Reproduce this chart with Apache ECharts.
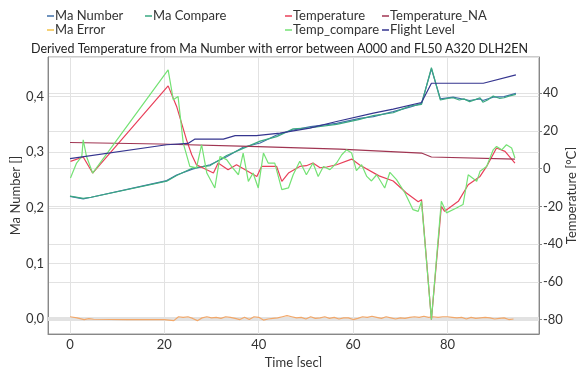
<!DOCTYPE html>
<html><head><meta charset="utf-8">
<script src="https://cdn.jsdelivr.net/npm/echarts@6/dist/echarts.min.js"></script>
<style>html,body{margin:0;padding:0;background:#fff}#c{width:576px;height:367px}</style>
</head><body><div id="c"></div>
<script>
const titleText = 'Derived Temperature from Ma Number with error between A000 and FL50 A320 DLH2EN';
const xName = 'Time [sec]';
const yLeftName = 'Ma Number []';
const yRightName = 'Temperature [°C]';
const seriesNames = ['Ma Number','Ma Compare','Ma Error','Temperature','Temperature_NA','Temp_compare','Flight Level'];

const maNumber = [[0,0.2205],[2.8,0.216],[4.5,0.219],[20.5,0.249],[22.6,0.259],[26.1,0.270],[29.7,0.2775],[33.2,0.292],[36.7,0.309],[40.3,0.3166],[43.8,0.331],[47.3,0.340],[51,0.346],[56.5,0.352],[61.4,0.361],[64.3,0.364],[68.5,0.373],[72,0.381],[74.5,0.388],[76.6,0.450],[78.5,0.396],[81.2,0.399],[84.7,0.393],[86.9,0.396],[87.5,0.393],[89.7,0.399],[92,0.400],[94.5,0.406]];
const maCompare = [[0,0.221],[2.8,0.217],[4.5,0.219],[20.5,0.248],[22.6,0.258],[26.1,0.272],[29.7,0.276],[33.2,0.294],[36.7,0.307],[40.3,0.320],[43.8,0.328],[47.3,0.342],[51,0.344],[56.5,0.350],[61.4,0.359],[64.3,0.366],[68.5,0.371],[72,0.383],[74.5,0.386],[76.6,0.452],[78.5,0.394],[80,0.397],[81.2,0.398],[82.5,0.394],[83.5,0.396],[84.7,0.391],[86,0.395],[86.9,0.398],[87.5,0.390],[88.5,0.394],[89.7,0.401],[91,0.397],[92,0.398],[93,0.401],[94.5,0.404]];
const maError = [[0,0.004],[1.5,0.002],[3,-0.001],[4,0.0005],[5,-0.0005],[12,-0.001],[20,-0.001],[21,-0.002],[22,-0.003],[23,0.004],[24,0.003],[25,0.004],[26,0.001],[27,-0.003],[28,0.002],[29,0.004],[30,0.002],[31,0.003],[32,0.001],[33,0.004],[34,0.003],[35,0.001],[36,-0.001],[37,0.003],[38,-0.001],[39,0.004],[40,0.003],[41,-0.002],[42,0.0],[43,0.001],[44,0.002],[45,0.004],[46,0.006],[47,0.004],[48,0.002],[49,0.003],[50,0.0],[51,0.004],[52,0.001],[53,0.002],[54,0.004],[55,0.001],[56,0.003],[57,0.0],[58,0.002],[59,0.002],[60,-0.001],[61,0.001],[62,0.004],[63,0.003],[64,0.005],[65,0.003],[66,0.001],[67,0.004],[68,0.002],[69,0.0],[70,0.002],[71,0.001],[72,0.003],[73,0.004],[74,0.003],[75,0.005],[76,0.003],[77,0.004],[78,0.003],[79,0.004],[80,0.004],[81,0.003],[82,0.002],[83,0.003],[84,0.0],[85,0.003],[86,0.001],[87,0.002],[88,0.003],[89,0.002],[90,0.0],[91,0.001],[92,0.002],[93,-0.001],[94,0.0]];
const temperature = [[0.1,3.9],[2.8,6.2],[4.8,-2.3],[20.8,43.9],[22.6,33],[24.7,15.3],[25.8,7.4],[26.8,2.1],[30.4,-2.3],[31.4,3],[33.5,-0.5],[35.3,2.1],[36.4,0.5],[39.6,-4.1],[40.6,1.2],[43.8,1.2],[44.9,-6.7],[46.3,-2.3],[48.7,1.2],[50.1,1.6],[51.5,3],[53,0.5],[54.4,0.9],[56.5,2.1],[59.7,5.1],[61.4,2],[65.5,-3.8],[68.5,-6.5],[71.3,-12.9],[73.8,-17.5],[74.5,-16.4],[76.6,-80],[78.7,-20],[79.4,-22.6],[82.3,-17.3],[84.4,-8.5],[86.9,-4.1],[88.3,1.2],[90.4,11],[92.2,9.2],[94.3,3]];
const temperatureNA = [[0,13.9],[19,13.1],[38,11.8],[57.2,10.4],[74.5,8.3],[76.6,6.2],[94.3,5.1]];
const tempCompare = [[0.1,-4.9],[1.4,3],[2.5,6.5],[2.8,15.3],[3.5,6.5],[4.8,-2.3],[20.8,52.4],[21.9,36.5],[22.9,38.3],[24,13.6],[25.4,1.2],[26.8,0.4],[27.9,12.7],[29,-2.3],[30.7,-10.2],[31.8,6.5],[33.2,4.8],[34.3,1],[35.7,-3.2],[36.7,8.3],[37.8,-6.7],[38.8,-2.3],[39.9,-10.2],[41,8.3],[42,3],[43.4,3],[44.9,-11.1],[46.3,-10.2],[47.3,-3.2],[48.7,3.9],[50.1,-3.2],[51.5,3],[52.6,-4.1],[53.7,1.2],[55.1,-0.5],[56.5,3],[57.6,7.4],[58.6,10],[59.7,8.3],[60.7,-1],[61.8,2.1],[62.9,-4.1],[63.9,-6.5],[65,-3.2],[66.7,-10.2],[67.8,-1.9],[69.2,-5.8],[71,-12.9],[72.7,-21.7],[73.8,-22.6],[74.5,-17.3],[76.6,-80],[78.7,-17.3],[79.8,-23.4],[81.9,-20.8],[83.3,-19],[84.4,-3.2],[86.2,-6.7],[86.9,-1.4],[88.3,1.2],[89.7,10],[90.4,11.8],[91.5,10],[92.5,12.7],[93.6,11],[94.3,5.7]];
const flightLevel = [[0,5.3],[20.5,12.7],[25,13.4],[26.5,15.7],[32.5,15.7],[35,17.5],[39.5,17.5],[44.5,18.9],[50.8,21.5],[56.5,25],[64.3,29.5],[68.5,31.6],[74.5,35.1],[76.6,45.3],[87.6,45.3],[94.5,49.7]];

const colors = ['#4170a8','#3aa882','#f2a86a','#e8405a','#a03552','#74e274','#35358f'];
const legendColors = ['#4170a8','#3aa882','#f2c24a','#e8405a','#a03552','#74e274','#35358f'];
const dataList = [maNumber, maCompare, maError, temperature, temperatureNA, tempCompare, flightLevel];
const axisIdx = [0,0,0,1,1,1,1];
const legendPos = [[47,9],[145,9],[47,23],[285,9],[382,9],[285,23],[382,23]];

const FONT = 'Lato';
const chart = echarts.init(document.getElementById('c'));
const series = seriesNames.map((n,i)=>{
  const s = {name:n, type:'line', yAxisIndex:axisIdx[i], data:dataList[i], showSymbol:false, symbol:'none',
    lineStyle:{width:1.2, color:colors[i]}, itemStyle:{color:colors[i]}, z:2+i, animation:false};
  if (i===2) {
    s.markLine = {silent:true, symbol:'none', label:{show:false}, lineStyle:{color:'#e2e2e2', width:4, type:'solid'}, data:[{yAxis:0}], z:1};
    s.z = 3;
  }
  return s;
});
const legends = seriesNames.map((n,i)=>({
  data:[{name:n, itemStyle:{color:legendColors[i]}}], left:legendPos[i][0], top:legendPos[i][1], padding:0,
  icon:'rect', itemWidth:7, itemHeight:1.5, selectedMode:false,
  textStyle:{fontFamily:FONT, fontSize:13, color:'#333', lineHeight:14, padding:[0,0,0,-4]}
}));
chart.setOption({
  animation:false,
  backgroundColor:'#fff',
  title:{text:titleText, left:31, top:42, padding:0, textStyle:{fontFamily:FONT, fontSize:12.5, fontWeight:'normal', color:'#222'}},
  legend:legends,
  grid:{left:48, right:37, top:57, bottom:33, show:true, borderColor:'#999', borderWidth:1, outerBoundsMode:'none', containLabel:false},
  xAxis:{type:'value', min:-4.66, max:99.4, splitNumber:5, name:xName, nameLocation:'middle', nameGap:22, nameMoveOverlap:false,
    nameTextStyle:{fontFamily:FONT, fontSize:13, color:'#333'},
    axisLine:{show:true, onZero:false, lineStyle:{color:'#888'}}, axisTick:{show:false},
    axisLabel:{fontFamily:FONT, fontSize:13, color:'#333', margin:4, showMinLabel:false, showMaxLabel:false},
    splitLine:{show:true, lineStyle:{color:'#e2e2e2'}}},
  yAxis:[
    {type:'value', position:'left', min:-0.027, max:0.4713, splitNumber:5, name:yLeftName, nameLocation:'middle', nameGap:26, nameRotate:90, nameMoveOverlap:false,
      nameTextStyle:{fontFamily:FONT, fontSize:13, color:'#333'},
      axisLine:{show:true, onZero:false, lineStyle:{color:'#888'}}, axisTick:{show:false},
      axisLabel:{fontFamily:FONT, fontSize:13, color:'#333', margin:4, showMinLabel:false, showMaxLabel:false, formatter:v=>v.toFixed(1).replace('.',',')},
      splitLine:{show:true, lineStyle:{color:'#e2e2e2'}}},
    {type:'value', position:'right', min:-87.6, max:59.2, splitNumber:7, name:yRightName, nameLocation:'middle', nameGap:26, nameRotate:90, nameMoveOverlap:false,
      nameTextStyle:{fontFamily:FONT, fontSize:13, color:'#333'},
      axisLine:{show:true, onZero:false, lineStyle:{color:'#888'}}, axisTick:{show:true, length:3, lineStyle:{color:'#888'}},
      axisLabel:{fontFamily:FONT, fontSize:13, color:'#333', margin:4, showMinLabel:false, showMaxLabel:false},
      splitLine:{show:true, lineStyle:{color:'#e2e2e2'}}}
  ],
  series:series
});
</script></body></html>
